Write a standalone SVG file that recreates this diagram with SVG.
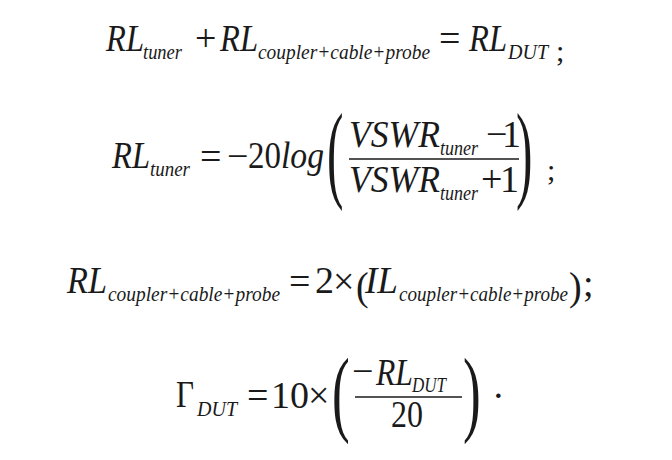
<svg xmlns="http://www.w3.org/2000/svg" width="672" height="460" viewBox="0 0 672 460">
<style>
text { font-family: "Liberation Serif", "Times New Roman", serif; fill: #1a1a1a; }
.m { font-size: 38px; }
.s { font-size: 22px; }
.i { font-style: italic; }
.sc { font-size: 30px; }
.bar { stroke: #1a1a1a; stroke-width: 1.6; }
</style>
<rect width="672" height="460" fill="#ffffff"/>

<g id="eq1">
  <text class="m i" x="106" y="51" textLength="38" lengthAdjust="spacingAndGlyphs">RL</text>
  <text class="s i" x="143" y="59" textLength="39" lengthAdjust="spacingAndGlyphs">tuner</text>
  <text class="m" x="195" y="51">+</text>
  <text class="m i" x="220" y="51" textLength="38" lengthAdjust="spacingAndGlyphs">RL</text>
  <text class="s i" x="258" y="59" textLength="172" lengthAdjust="spacingAndGlyphs">coupler+cable+probe</text>
  <text class="m" x="439" y="51">=</text>
  <text class="m i" x="469" y="51" textLength="38" lengthAdjust="spacingAndGlyphs">RL</text>
  <text class="s i" x="508" y="59" textLength="40" lengthAdjust="spacingAndGlyphs">DUT</text>
  <text class="sc" x="556" y="61">;</text>
</g>

<g id="eq2">
  <text class="m i" x="112" y="168" textLength="38" lengthAdjust="spacingAndGlyphs">RL</text>
  <text class="s i" x="150" y="176" textLength="40" lengthAdjust="spacingAndGlyphs">tuner</text>
  <text class="m" x="200" y="169">=</text>
  <text class="m" x="227" y="169">−</text>
  <text class="m" x="248" y="168" textLength="33" lengthAdjust="spacingAndGlyphs">20</text>
  <text class="m i" x="281" y="168" textLength="43" lengthAdjust="spacingAndGlyphs">log</text>
  <text class="m" transform="translate(327,160) scale(1.3,2.85)" x="0" y="9.7">(</text>
  <text class="m i" x="349" y="147" textLength="91" lengthAdjust="spacingAndGlyphs">VSWR</text>
  <text class="s i" x="440" y="155" textLength="38" lengthAdjust="spacingAndGlyphs">tuner</text>
  <text class="m" x="486" y="147">−</text>
  <text class="m" x="502" y="147">1</text>
  <line class="bar" x1="349" y1="159" x2="519" y2="159"/>
  <text class="m i" x="349" y="192" textLength="91" lengthAdjust="spacingAndGlyphs">VSWR</text>
  <text class="s i" x="440" y="200" textLength="38" lengthAdjust="spacingAndGlyphs">tuner</text>
  <text class="m" x="481" y="192">+</text>
  <text class="m" x="500" y="192">1</text>
  <text class="m" transform="translate(516,160) scale(1.3,2.85)" x="0" y="9.7">)</text>
  <text class="sc" x="547" y="180">;</text>
</g>

<g id="eq3">
  <text class="m i" x="67" y="293" textLength="40" lengthAdjust="spacingAndGlyphs">RL</text>
  <text class="s i" x="108" y="301" textLength="172" lengthAdjust="spacingAndGlyphs">coupler+cable+probe</text>
  <text class="m" x="289" y="294">=</text>
  <text class="m" x="315" y="293">2</text>
  <text class="m" x="333" y="294">×</text>
  <text class="m" transform="translate(356,290) scale(1,1.05)" x="0" y="9.7">(</text>
  <text class="m i" x="365" y="293" textLength="33" lengthAdjust="spacingAndGlyphs">IL</text>
  <text class="s i" x="399" y="301" textLength="169" lengthAdjust="spacingAndGlyphs">coupler+cable+probe</text>
  <text class="m" transform="translate(569,290) scale(1,1.05)" x="0" y="9.7">)</text>
  <text class="m" x="583" y="296" font-size="33">;</text>
</g>

<g id="eq4">
  <text class="m" x="176" y="407" font-size="37" textLength="18" lengthAdjust="spacingAndGlyphs">Γ</text>
  <text class="s i" x="197" y="416" textLength="40" lengthAdjust="spacingAndGlyphs">DUT</text>
  <text class="m" x="247" y="408" font-size="37">=</text>
  <text class="m" x="271" y="408" font-size="37">10</text>
  <text class="m" x="308" y="408" font-size="37">×</text>
  <text class="m" transform="translate(332,400) scale(1.4,2.5)" x="0" y="9.5" font-size="37">(</text>
  <text class="m" x="352" y="384" font-size="37">−</text>
  <text class="m i" x="376" y="385" font-size="37" textLength="37" lengthAdjust="spacingAndGlyphs">RL</text>
  <text class="s i" x="412" y="392" textLength="34" lengthAdjust="spacingAndGlyphs">DUT</text>
  <line class="bar" x1="355" y1="397" x2="462" y2="397"/>
  <text class="m" x="391" y="427" font-size="37" textLength="32" lengthAdjust="spacingAndGlyphs">20</text>
  <text class="m" transform="translate(463,400) scale(1.4,2.5)" x="0" y="9.5" font-size="37">)</text>
  <text class="m" x="492" y="408" font-size="37">·</text>
</g>
</svg>
